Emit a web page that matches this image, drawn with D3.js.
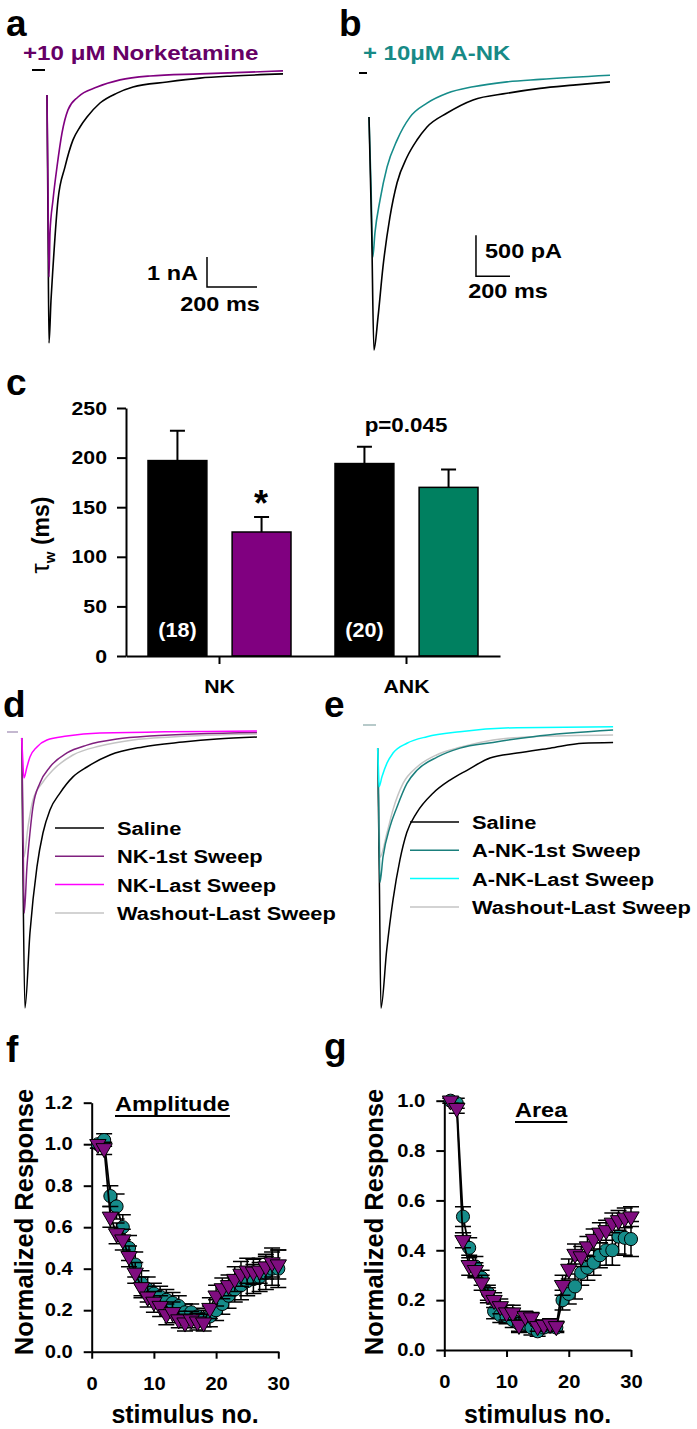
<!DOCTYPE html>
<meta charset="utf-8">
<title>Norketamine / A-NK traces</title>
<style>
body { margin: 0; background: #fff; }
svg { font-family: "Liberation Sans", Arial, sans-serif; }
</style>
<body>
<script src="https://cdn.jsdelivr.net/npm/d3@7/dist/d3.min.js"></script>
<script>

var width = 697,
    height = 1429,
    SX = 1.12; // the figure's text looks a bit wide

// ---------- data ----------
// example traces, [time (ms), current (nA)]
var aSaline = [[0,-0.83],[4,-5.0],[8,-9.1],[16,-7.67],[24,-6.57],[44,-4.33],[72,-3.23],[104,-2.33],[132,-1.9],[160,-1.57],[212,-1.1],[280,-0.77],[344,-0.57],[480,-0.4],[612,-0.27],[744,-0.2],[944,-0.13]];
var aNK = [[0,-0.83],[4,-4.0],[8,-6.9],[12,-5.43],[24,-4.33],[40,-3.23],[60,-2.1],[84,-1.33],[124,-0.9],[200,-0.57],[292,-0.33],[412,-0.2],[612,-0.13],[944,-0.03]];

var bSaline = [[0,-0.55],[16,-1.96],[29,-3.39],[53,-2.99],[82,-2.38],[123,-1.77],[165,-1.35],[223,-1.04],[282,-0.83],[341,-0.67],[459,-0.5],[612,-0.34],[811,-0.26],[1005,-0.2],[1200,-0.16],[1417,-0.12]];
var bANK = [[0,-0.55],[12,-1.4],[22,-2.26],[35,-1.96],[65,-1.56],[106,-1.16],[165,-0.83],[241,-0.55],[341,-0.38],[459,-0.26],[612,-0.18],[811,-0.12],[1005,-0.09],[1417,-0.04]];

var dSaline = [[0,-0.13],[5,-4.5],[13,-9.13],[33,-6.63],[61,-4.43],[85,-3.3],[113,-2.53],[153,-1.97],[205,-1.43],[261,-1.1],[353,-0.7],[485,-0.43],[645,-0.27],[781,-0.17],[941,-0.1]];
var dNK1 = [[0,-0.13],[5,-3.0],[10,-5.97],[21,-4.43],[33,-3.3],[45,-2.43],[73,-1.63],[113,-1.1],[181,-0.63],[261,-0.37],[381,-0.17],[513,-0.07],[941,0.05]];
var dNKLast = [[0,-0.13],[4,-0.8],[9,-1.47],[21,-1.1],[33,-0.77],[61,-0.43],[101,-0.2],[181,-0.07],[313,0.03],[941,0.1]];
var dWash = [[0,-0.13],[4,-2.0],[9,-4.1],[25,-3.1],[45,-2.2],[85,-1.6],[125,-1.2],[205,-0.7],[313,-0.4],[445,-0.2],[600,-0.1],[941,0.0]];

var eSaline = [[0,-0.27],[10,-1.9],[19,-3.44],[53,-2.73],[90,-2.12],[131,-1.63],[171,-1.3],[229,-1.06],[325,-0.82],[425,-0.66],[525,-0.54],[660,-0.39],[819,-0.33],[1013,-0.27],[1207,-0.21],[1384,-0.2]];
var eANK1 = [[0,-0.27],[7,-1.1],[13,-1.91],[31,-1.6],[72,-1.23],[113,-0.99],[172,-0.7],[231,-0.54],[349,-0.38],[484,-0.27],[678,-0.2],[913,-0.13],[1384,-0.05]];
var eANKLast = [[0,-0.27],[4,-0.5],[8,-0.74],[25,-0.62],[55,-0.45],[90,-0.33],[172,-0.21],[290,-0.13],[484,-0.07],[819,-0.02],[1384,-0.01]];
var eWash = [[0,-0.27],[7,-0.9],[13,-1.6],[55,-1.3],[90,-1.02],[149,-0.7],[231,-0.5],[349,-0.35],[484,-0.26],[678,-0.17],[913,-0.13],[1384,-0.11]];

// panel c: decay tau (ms)
var groups = ["NK", "ANK"];
var conds = ["saline", "drug"];
var tauMean = [197, 125, 194, 170];
var tauSem = [30, 15, 17, 18];
var tauN = ["(18)", "", "(20)", ""];

// panels f, g: normalized response vs stimulus number
var stimNo = [1,2,3,4,5,6,7,8,9,10,11,12,13,14,15,16,17,18,19,20,21,22,23,24,25,26,27,28,29,30];
var ampANK = [1.00,1.02,0.75,0.70,0.60,0.50,0.42,0.33,0.30,0.28,0.265,0.25,0.235,0.22,0.19,0.19,0.17,0.16,0.17,0.20,0.23,0.27,0.30,0.32,0.34,0.35,0.36,0.38,0.40,0.40];
var ampANKErr = [0.02,0.03,0.05,0.06,0.06,0.06,0.06,0.06,0.06,0.05,0.05,0.05,0.05,0.05,0.04,0.04,0.04,0.04,0.05,0.05,0.05,0.06,0.06,0.07,0.07,0.07,0.07,0.08,0.08,0.09];
var ampNK = [1.00,0.98,0.65,0.57,0.54,0.46,0.38,0.31,0.265,0.24,0.22,0.18,0.19,0.155,0.14,0.155,0.145,0.14,0.21,0.27,0.305,0.32,0.35,0.375,0.39,0.385,0.39,0.41,0.43,0.42];
var ampNKErr = [0.02,0.03,0.05,0.05,0.05,0.05,0.05,0.05,0.05,0.05,0.05,0.05,0.05,0.04,0.04,0.04,0.04,0.04,0.05,0.05,0.05,0.05,0.06,0.06,0.06,0.06,0.06,0.06,0.07,0.07];
var areaANK = [1.00,0.99,0.535,0.41,0.335,0.29,0.23,0.155,0.14,0.135,0.12,0.105,0.105,0.09,0.075,0.09,0.095,0.09,0.20,0.225,0.255,0.31,0.33,0.35,0.38,0.40,0.40,0.455,0.45,0.445];
var areaANKErr = [0.01,0.02,0.04,0.04,0.04,0.03,0.03,0.03,0.03,0.03,0.03,0.03,0.03,0.03,0.02,0.02,0.02,0.02,0.04,0.04,0.05,0.05,0.05,0.05,0.05,0.06,0.06,0.07,0.07,0.07];
var areaNK = [1.00,0.97,0.44,0.34,0.32,0.27,0.22,0.20,0.175,0.15,0.15,0.10,0.135,0.13,0.095,0.10,0.105,0.095,0.26,0.325,0.385,0.375,0.415,0.445,0.47,0.48,0.51,0.52,0.53,0.535];
var areaNKErr = [0.01,0.02,0.03,0.04,0.03,0.03,0.03,0.03,0.03,0.03,0.03,0.03,0.02,0.02,0.02,0.02,0.02,0.02,0.04,0.04,0.04,0.04,0.04,0.04,0.04,0.04,0.04,0.04,0.04,0.04];

var teal = "#168c8a",
    purple = "#7f0d7f";

// ---------- drawing ----------
var svg = d3.select("body").append("svg")
    .attr("width", width)
    .attr("height", height);

function label(g, x, y, str, o) {
  o = o || {};
  return g.append("text")
      .attr("transform", "translate(" + x + "," + y + ") scale(" + (o.sx || 1) + ",1)")
      .attr("text-anchor", o.anchor || "start")
      .attr("font-size", o.size || 18)
      .attr("font-weight", o.weight || "bold")
      .attr("fill", o.fill || "#000")
      .text(str);
}

function trace(x, y, data, color, w) {
  var line = d3.line()
      .x(function(d) { return x(d[0]); })
      .y(function(d) { return y(d[1]); })
      .curve(d3.curveMonotoneX);
  svg.append("path")
      .datum(data)
      .attr("d", line)
      .attr("fill", "none")
      .attr("stroke", color)
      .attr("stroke-width", w || 1.5)
      .attr("stroke-linejoin", "round");
}

function scaleBar(x, y, t0, i0, dt, di) {
  var xv = x(t0), yb = y(i0), yt = y(i0 + di);
  svg.append("path")
      .attr("d", "M" + xv + "," + yt + "V" + yb + "H" + x(t0 + dt))
      .attr("fill", "none").attr("stroke", "#000").attr("stroke-width", 1.5);
}

// panel letters
[["a", 6, 36], ["b", 339, 36], ["c", 6, 395], ["d", 3, 717], ["e", 324, 717], ["f", 6, 1062], ["g", 324, 1059]]
  .forEach(function(p) { label(svg, p[1], p[2], p[0], {size: 37}); });

// ---- a ----
var xA = d3.scaleLinear().domain([0, 944]).range([47, 283]),
    yA = d3.scaleLinear().domain([0, -9]).range([70, 340]);
svg.append("line").attr("x1", 32).attr("x2", 45).attr("y1", 70).attr("y2", 70)
    .attr("stroke", "#000").attr("stroke-width", 2);
trace(xA, yA, aSaline, "#000", 1.6);
trace(xA, yA, aNK, "#800080", 1.6);
label(svg, 23, 60, "+10 \u03bcM Norketamine", {size: 21, sx: 1.15, fill: "#660066"});
scaleBar(xA, yA, 640, -7.23, 200, 1);
label(svg, 198, 280, "1 nA", {size: 21, sx: SX, anchor: "end"});
label(svg, 220, 311, "200 ms", {size: 21, sx: SX, anchor: "middle"});

// ---- b ----
var xB = d3.scaleLinear().domain([0, 1417]).range([369, 610]),
    yB = d3.scaleLinear().domain([0, -3.5]).range([72, 359]);
svg.append("line").attr("x1", 359).attr("x2", 367).attr("y1", 73).attr("y2", 73)
    .attr("stroke", "#000").attr("stroke-width", 2);
trace(xB, yB, bANK, teal, 1.6);
trace(xB, yB, bSaline, "#000", 1.6);
label(svg, 363, 60, "+ 10\u03bcM A-NK", {size: 21, sx: 1.14, fill: "#178a86"});
scaleBar(xB, yB, 629, -2.49, 200, 0.5);
label(svg, 485, 258, "500 pA", {size: 21, sx: SX});
label(svg, 508, 298, "200 ms", {size: 21, sx: SX, anchor: "middle"});

// ---- c ----
var gC = svg.append("g");
var yC = d3.scaleLinear().domain([0, 250]).range([656, 408]);
var x0 = d3.scaleBand().domain(groups).range([126, 500]);
var x1 = d3.scaleBand().domain(conds).range([22, 165]).paddingInner(0.3);
var barColor = ["#000", "#800080", "#000", "#008060"];

var bars = [];
groups.forEach(function(g, gi) {
  conds.forEach(function(c, ci) {
    var k = gi * 2 + ci;
    bars.push({group: g, cond: c, mean: tauMean[k], sem: tauSem[k], n: tauN[k], color: barColor[k]});
  });
});

bars.forEach(function(d) {
  var bx = x0(d.group) + x1(d.cond), cx = bx + x1.bandwidth() / 2;
  gC.append("path")
      .attr("d", "M" + cx + "," + yC(d.mean) + "V" + yC(d.mean + d.sem) +
                 "M" + (cx - 7.5) + "," + yC(d.mean + d.sem) + "H" + (cx + 7.5))
      .attr("stroke", "#000").attr("stroke-width", 2);
  gC.append("rect")
      .attr("x", bx).attr("y", yC(d.mean))
      .attr("width", x1.bandwidth()).attr("height", yC(0) - yC(d.mean))
      .attr("fill", d.color).attr("stroke", "#000").attr("stroke-width", 1.5);
  if (d.n) label(gC, cx, 637, d.n, {size: 20, sx: 1.08, anchor: "middle", fill: "#fff"});
});

var axC = gC.append("g").attr("transform", "translate(126,0)")
    .call(d3.axisLeft(yC).tickValues([0, 50, 100, 150, 200, 250]).tickSize(9).tickSizeOuter(0).tickPadding(10));
axC.selectAll("text").attr("font-size", 19).attr("font-weight", "bold")
    .attr("transform", "scale(" + SX + ",1)").attr("x", -19 / SX);
var axCx = gC.append("g").attr("transform", "translate(0,656)")
    .call(d3.axisBottom(x0).tickSize(8).tickSizeOuter(0));
axCx.selectAll("text").attr("font-size", 19).attr("font-weight", "bold").attr("y", 37).attr("dy", null)
    .attr("transform", "scale(" + SX + ",1)").attr("x", 0);
[axC, axCx].forEach(function(a) {
  a.attr("font-family", null);
  a.selectAll("path, line").attr("stroke-width", 2);
});

var yt = gC.append("text")
    .attr("transform", "translate(49,535) rotate(-90)")
    .attr("text-anchor", "middle");
yt.append("tspan").attr("font-size", 26).text("\u03c4");
yt.append("tspan").attr("font-size", 15).attr("font-weight", "bold").attr("dy", 6).text("w");
yt.append("tspan").attr("font-size", 23).attr("font-weight", "bold").attr("dy", -6).text(" (ms)");

label(gC, 261, 516, "*", {size: 36, anchor: "middle"});
label(gC, 406, 432, "p=0.045", {size: 20, sx: SX, anchor: "middle"});

// ---- d, e ----
var xD = d3.scaleLinear().domain([0, 944]).range([21.7, 257.7]),
    yD = d3.scaleLinear().domain([0, -9]).range([734, 1004]);
svg.append("line").attr("x1", 7).attr("x2", 18).attr("y1", 732).attr("y2", 732)
    .attr("stroke", "#b0a0c0").attr("stroke-width", 1.5);
trace(xD, yD, dSaline, "#000", 1.5);
trace(xD, yD, dWash, "#c4c4c4", 1.5);
trace(xD, yD, dNK1, "#80207f", 1.5);
trace(xD, yD, dNKLast, "#ff00ff", 1.5);

var xE = d3.scaleLinear().domain([0, 1417]).range([377.7, 618.7]),
    yE = d3.scaleLinear().domain([0, -3.5]).range([726, 1013]);
svg.append("line").attr("x1", 363).attr("x2", 376).attr("y1", 725).attr("y2", 725)
    .attr("stroke", "#9fb8b8").attr("stroke-width", 1.5);
trace(xE, yE, eSaline, "#000", 1.5);
trace(xE, yE, eWash, "#c4c4c4", 1.5);
trace(xE, yE, eANK1, "#1a7f7c", 1.5);
trace(xE, yE, eANKLast, "#00ffff", 1.5);

function legend(x, y, items) {
  items.forEach(function(it, i) {
    var yy = y + i * 28.3;
    svg.append("line").attr("x1", x).attr("x2", x + 49).attr("y1", yy).attr("y2", yy)
        .attr("stroke", it[1]).attr("stroke-width", 1.5);
    label(svg, x + 62, yy + 7, it[0], {size: 19, sx: 1.15});
  });
}
legend(55, 828, [["Saline", "#000"], ["NK-1st Sweep", "#80207f"], ["NK-Last Sweep", "#ff00ff"], ["Washout-Last Sweep", "#c4c4c4"]]);
legend(410, 822, [["Saline", "#000"], ["A-NK-1st Sweep", "#1a7f7c"], ["A-NK-Last Sweep", "#00ffff"], ["Washout-Last Sweep", "#c4c4c4"]]);

// ---- f, g ----
function stimPanel(o) {
  var g = svg.append("g");
  var x = d3.scaleLinear().domain([0, 30]).range(o.xr),
      y = d3.scaleLinear().domain([0, o.ymax]).range(o.yr);

  var ax = g.append("g").attr("transform", "translate(" + o.xr[0] + ",0)")
      .call(d3.axisLeft(y).tickValues(d3.range(0, o.ymax + 0.01, 0.2)).tickFormat(d3.format(".1f"))
        .tickSize(8).tickSizeOuter(0).tickPadding(10));
  ax.selectAll("text").attr("font-size", 18).attr("font-weight", "bold")
      .attr("transform", "scale(" + SX + ",1)").attr("x", -19 / SX);
  var bx = g.append("g").attr("transform", "translate(0," + o.yr[0] + ")")
      .call(d3.axisBottom(x).tickValues([0, 10, 20, 30]).tickSize(7).tickSizeOuter(0));
  bx.selectAll("text").attr("font-size", 18).attr("font-weight", "bold").attr("y", 38).attr("dy", null)
      .attr("transform", "scale(" + SX + ",1)");
  [ax, bx].forEach(function(a) {
    a.attr("font-family", null);
    a.selectAll("path, line").attr("stroke-width", 2);
  });

  var line = d3.line()
      .x(function(d, i) { return x(stimNo[i]); })
      .y(function(d) { return y(d); });

  o.series.forEach(function(s) {
    var pts = s.vals.map(function(v, i) { return {n: stimNo[i], v: v, e: s.err[i]}; });
    var eb = g.append("g").attr("stroke", "#000").attr("stroke-width", 1.5);
    pts.forEach(function(p) {
      var cx = x(p.n), lo = y(p.v - p.e), hi = y(p.v + p.e);
      eb.append("path").attr("d", "M" + cx + "," + lo + "V" + hi +
          "M" + (cx - 8) + "," + lo + "H" + (cx + 8) + "M" + (cx - 8) + "," + hi + "H" + (cx + 8));
    });
    g.append("path").datum(s.vals).attr("d", line)
        .attr("fill", "none").attr("stroke", "#000").attr("stroke-width", 1.8);
    var sym = d3.symbol().type(s.shape === "circle" ? d3.symbolCircle : d3.symbolTriangle)
        .size(s.shape === "circle" ? 135 : 115);
    g.selectAll(null).data(pts).enter().append("path")
        .attr("d", sym)
        .attr("transform", function(p) {
          return "translate(" + x(p.n) + "," + y(p.v) + ")" + (s.shape === "circle" ? "" : " rotate(180)");
        })
        .attr("fill", s.color).attr("stroke", "#000").attr("stroke-width", 1);
  });

  var t = label(g, o.title[1], o.title[2], o.title[0], {size: 21, sx: SX});
  var w = t.node().getComputedTextLength() * SX;
  g.append("line").attr("x1", o.title[1]).attr("x2", o.title[1] + w)
      .attr("y1", o.title[2] + 5).attr("y2", o.title[2] + 5)
      .attr("stroke", "#000").attr("stroke-width", 2);

  g.append("text")
      .attr("transform", "translate(" + o.ytx + ",1222) rotate(-90)")
      .attr("text-anchor", "middle").attr("font-size", 25.5).attr("font-weight", "bold")
      .text("Normalized Response");
  label(g, (o.xr[0] + o.xr[1]) / 2, 1423, "stimulus no.", {size: 25, anchor: "middle"});
}

stimPanel({
  xr: [91.7, 278.3], yr: [1351.7, 1102.7], ymax: 1.2, ytx: 33,
  title: ["Amplitude", 115, 1111],
  series: [
    {vals: ampANK, err: ampANKErr, color: teal, shape: "circle"},
    {vals: ampNK, err: ampNKErr, color: purple, shape: "triangle"}
  ]
});
stimPanel({
  xr: [444.3, 631], yr: [1350, 1100.7], ymax: 1.0, ytx: 383,
  title: ["Area", 515, 1117],
  series: [
    {vals: areaANK, err: areaANKErr, color: teal, shape: "circle"},
    {vals: areaNK, err: areaNKErr, color: purple, shape: "triangle"}
  ]
});

</script>
